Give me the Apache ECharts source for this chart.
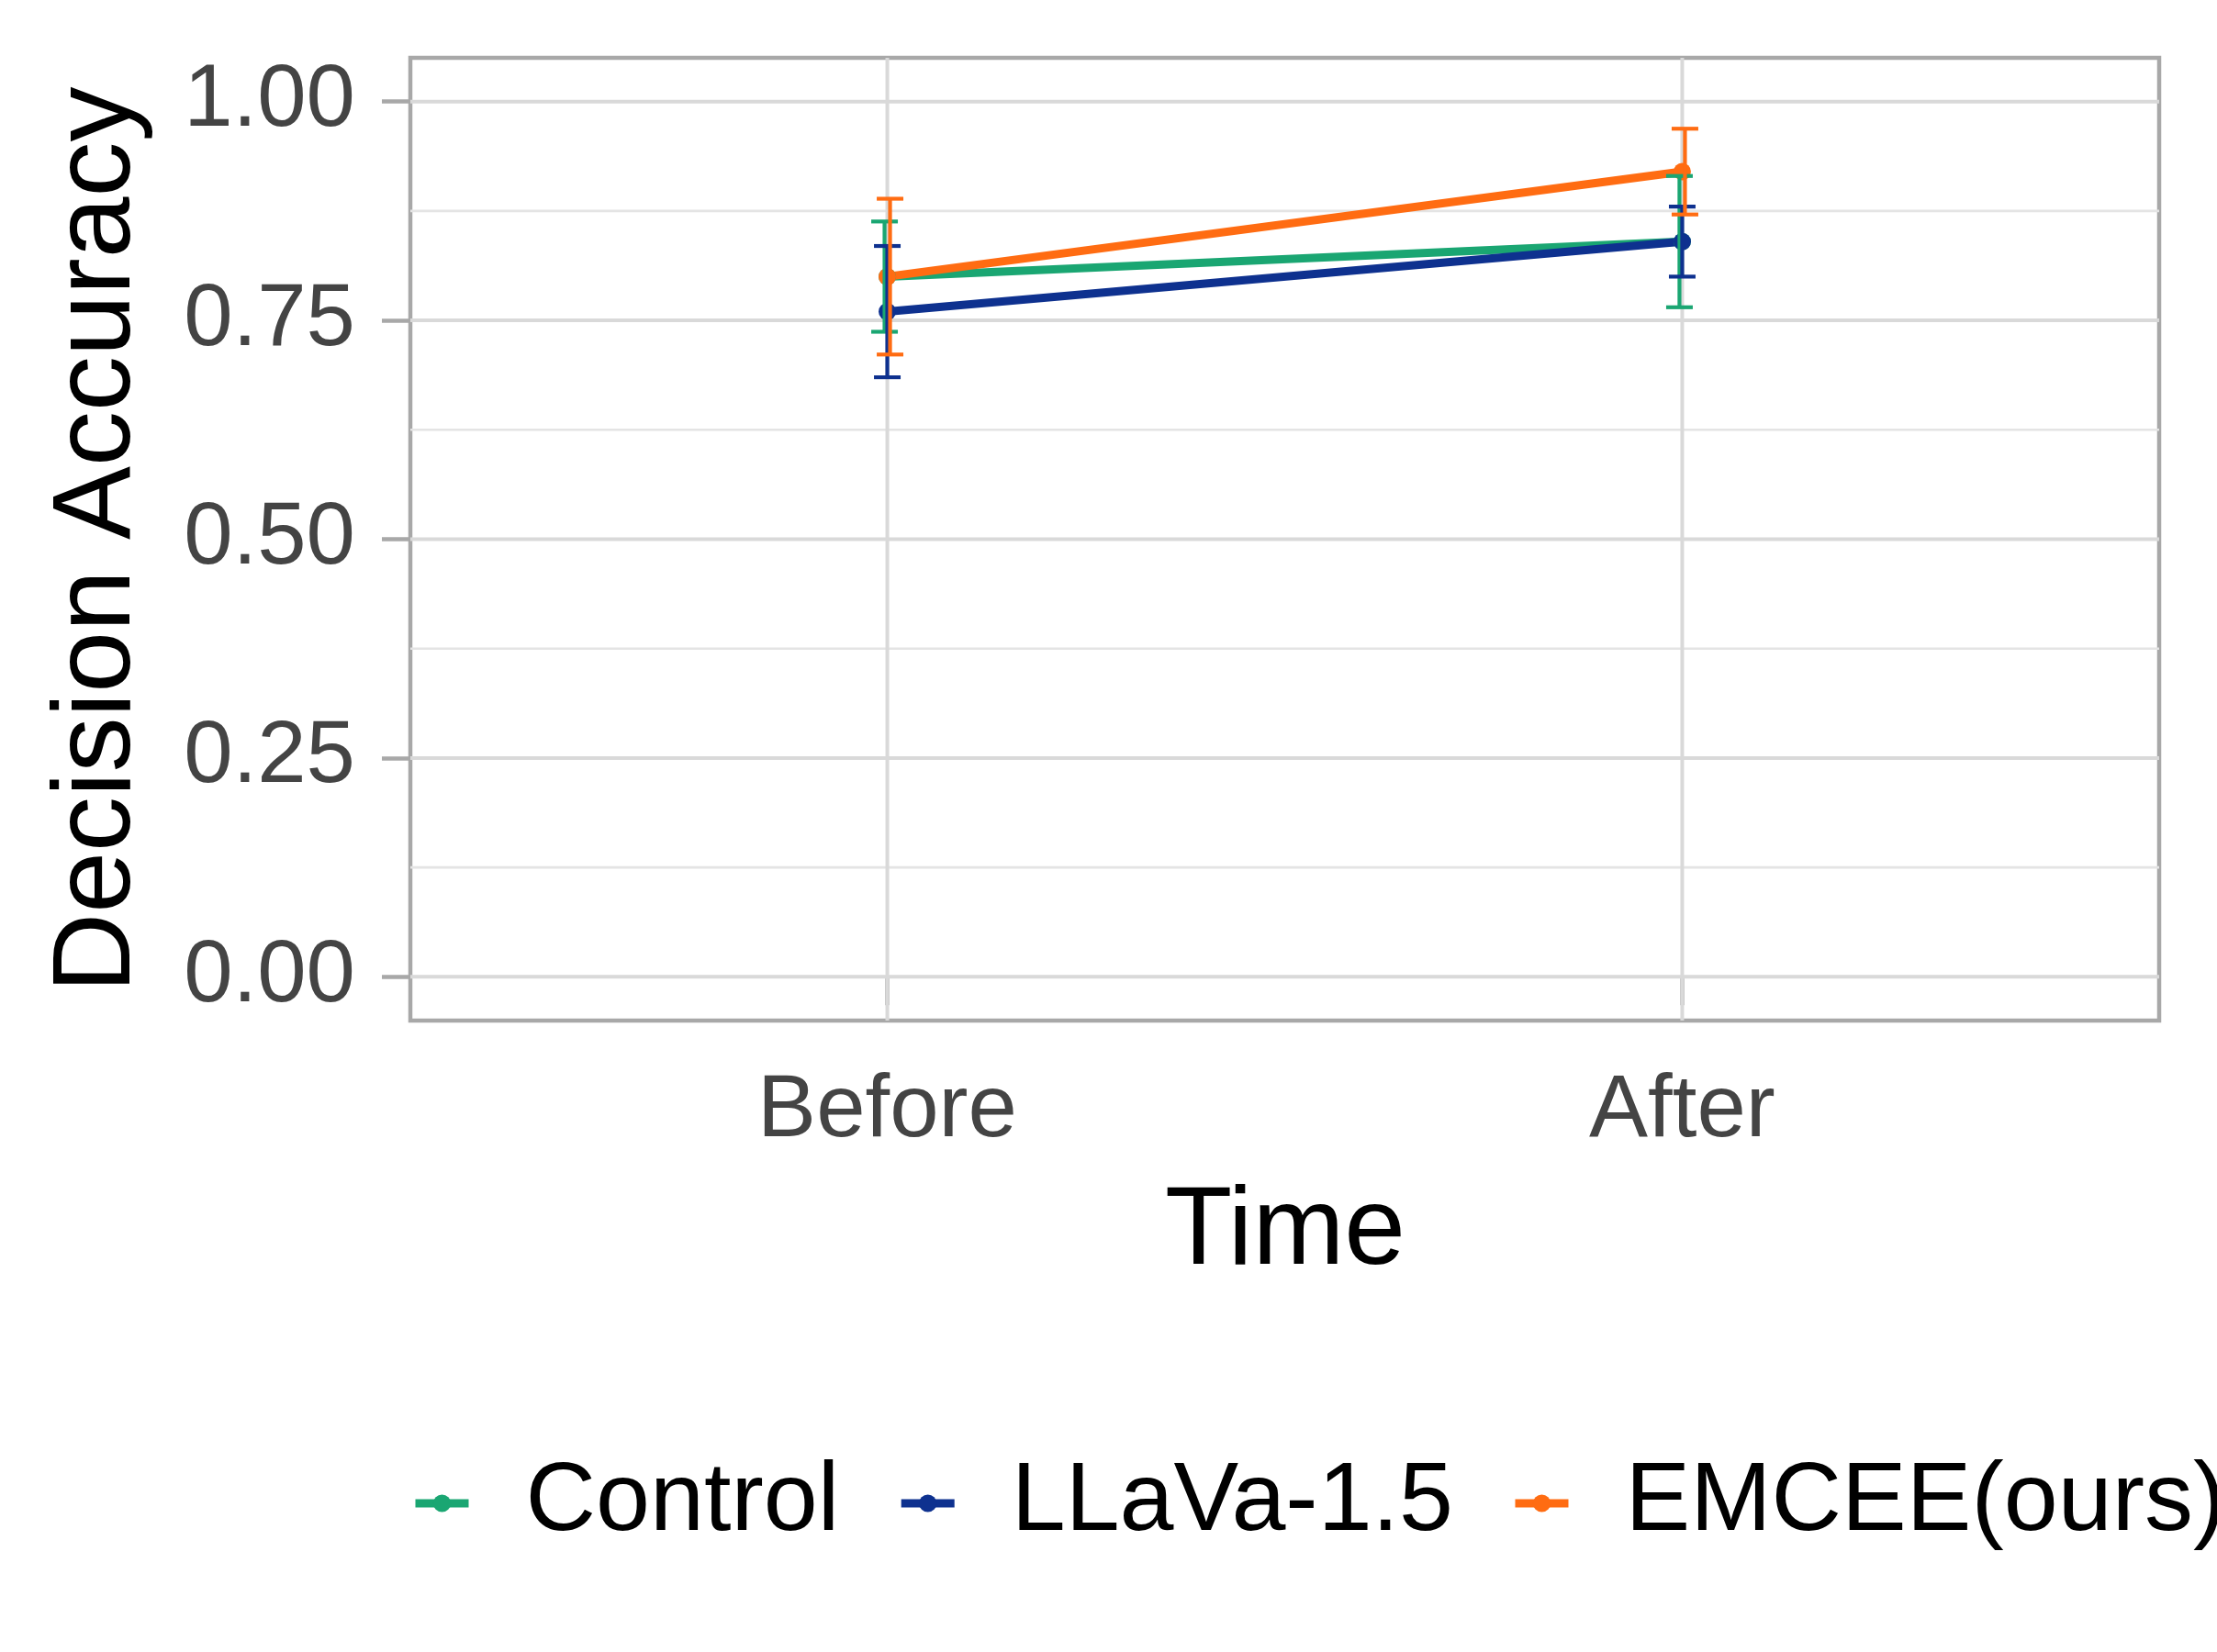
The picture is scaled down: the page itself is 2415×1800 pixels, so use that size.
<!DOCTYPE html>
<html>
<head>
<meta charset="utf-8">
<script src="https://cdn.jsdelivr.net/npm/echarts@6/dist/echarts.min.js"></script>
<style>
  html, body { margin: 0; padding: 0; background: #fff; }
  #chart { width: 2415px; height: 1800px; }
</style>
</head>
<body>
<div id="chart"></div>
<script>
// data
const timePoints = ['Before', 'After'];
const groups = ['Control', 'LLaVa-1.5', 'EMCEE(ours)'];
const controlMean = [0.80, 0.84];
const controlLow = [0.737, 0.765];
const controlHigh = [0.863, 0.915];
const llavaMean = [0.76, 0.84];
const llavaLow = [0.685, 0.80];
const llavaHigh = [0.835, 0.88];
const emceeMean = [0.80, 0.92];
const emceeLow = [0.711, 0.871];
const emceeHigh = [0.889, 0.969];
const yTicks = [0, 0.25, 0.5, 0.75, 1];
const yMinor = [0.125, 0.375, 0.625, 0.875];

const colors = ['#1AA672', '#0E318F', '#FF6C12'];
const dodgePx = [-3, 0, 3];
const font = "'Liberation Sans', Arial, sans-serif";
const xPos = timePoints.map((t, i) => i + 1);

const chart = echarts.init(document.getElementById('chart'));

// plain lines drawn through the axes (panel grid)
function gridSeries(values, dir, width, color) {
    return {
        type: 'custom',
        silent: true,
        z: 1,
        data: values,
        renderItem: function (params, api) {
            const v = api.value(0);
            let p1, p2;
            if (dir === 'h') {
                p1 = api.coord([0.4, v]);
                p2 = api.coord([2.6, v]);
            } else {
                p1 = api.coord([v, -0.05]);
                p2 = api.coord([v, 1.05]);
            }
            return {
                type: 'line',
                shape: {x1: p1[0], y1: p1[1], x2: p2[0], y2: p2[1]},
                style: {stroke: color, lineWidth: width}
            };
        }
    };
}

function errorSeries(low, high, idx) {
    return {
        type: 'custom',
        silent: true,
        z: 4,
        data: xPos.map((x, i) => [x, low[i], high[i]]),
        renderItem: function (params, api) {
            const lo = api.coord([api.value(0), api.value(1)]);
            const hi = api.coord([api.value(0), api.value(2)]);
            const x = lo[0] + dodgePx[idx];
            const half = 14.5;
            const st = {stroke: colors[idx], lineWidth: 4.2};
            return {
                type: 'group',
                children: [
                    {type: 'line', shape: {x1: x, y1: lo[1], x2: x, y2: hi[1]}, style: st},
                    {type: 'line', shape: {x1: x - half, y1: lo[1], x2: x + half, y2: lo[1]}, style: st},
                    {type: 'line', shape: {x1: x - half, y1: hi[1], x2: x + half, y2: hi[1]}, style: st}
                ]
            };
        }
    };
}

function lineSeries(name, mean, idx) {
    return {
        name: name,
        type: 'line',
        z: 3,
        data: xPos.map((x, i) => [x, mean[i]]),
        symbol: 'circle',
        symbolSize: 19,
        showSymbol: true,
        color: colors[idx],
        lineStyle: {width: 9, color: colors[idx]},
        itemStyle: {color: colors[idx]}
    };
}

chart.setOption({
    backgroundColor: '#ffffff',
    animation: false,
    grid: {
        left: 447, top: 63, width: 1905, height: 1049,
        show: true, borderColor: '#A8A8A8', borderWidth: 4.5, backgroundColor: 'transparent'
    },
    xAxis: {
        type: 'value', min: 0.4, max: 2.6,
        axisLine: {show: false},
        splitLine: {show: false},
        axisTick: {show: true, length: 31, customValues: xPos, lineStyle: {color: '#A8A8A8', width: 4.5}},
        axisLabel: {
            customValues: xPos, margin: 52, fontSize: 96, fontFamily: font, color: '#444444',
            formatter: v => timePoints[Math.round(v) - 1]
        }
    },
    yAxis: {
        type: 'value', min: -0.05, max: 1.05,
        axisLine: {show: false},
        splitLine: {show: false},
        axisTick: {show: true, length: 31, customValues: yTicks, lineStyle: {color: '#A8A8A8', width: 4.5}},
        axisLabel: {
            customValues: yTicks, margin: 60, fontSize: 96, fontFamily: font, color: '#444444',
            formatter: v => v.toFixed(2)
        }
    },
    legend: {
        data: groups,
        left: 448, top: 1585, width: 2400,
        padding: 0,
        itemWidth: 58, itemHeight: 24, itemGap: 63,
        lineStyle: {width: 9},
        textStyle: {fontSize: 106, fontFamily: font, color: '#000000', padding: [0, 0, 0, 57]}
    },
    graphic: [
        {type: 'text', x: 1400, y: 1344, style: {text: 'Time', fontSize: 120, fontFamily: font, fill: '#000', align: 'center', verticalAlign: 'middle'}},
        {type: 'text', x: 108, y: 588, rotation: Math.PI / 2, style: {text: 'Decision Accuracy', fontSize: 120, fontFamily: font, fill: '#000', align: 'center', verticalAlign: 'middle'}}
    ],
    series: [
        lineSeries(groups[0], controlMean, 0),
        lineSeries(groups[1], llavaMean, 1),
        lineSeries(groups[2], emceeMean, 2),
        gridSeries(yMinor, 'h', 2.6, '#E4E4E4'),
        gridSeries(yTicks, 'h', 4, '#D9D9D9'),
        gridSeries(xPos, 'v', 4, '#D9D9D9'),
        errorSeries(controlLow, controlHigh, 0),
        errorSeries(llavaLow, llavaHigh, 1),
        errorSeries(emceeLow, emceeHigh, 2)
    ]
});
</script>
</body>
</html>
